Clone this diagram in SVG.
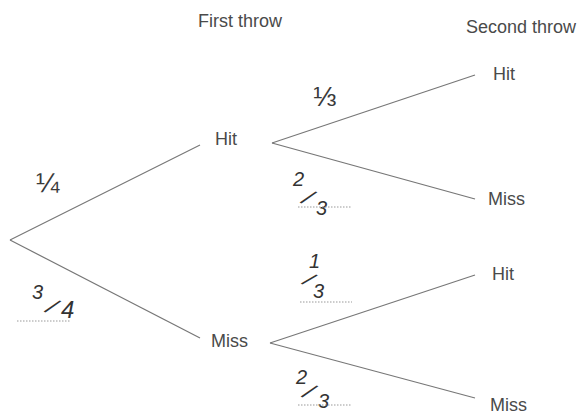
<svg xmlns="http://www.w3.org/2000/svg" width="585" height="414" viewBox="0 0 585 414">
<style>
.lbl{font-family:"Liberation Sans",Arial,sans-serif;font-size:18px;fill:#4a4a4a}
.hdr{font-family:"Liberation Sans",Arial,sans-serif;font-size:18px;fill:#4a4a4a}
.frac{font-family:"Liberation Sans",Arial,sans-serif;font-size:28px;fill:#3a3a3a}
.hw{font-family:"Liberation Sans",Arial,sans-serif;font-size:20px;fill:#333;font-style:italic}
.br{stroke:#777;stroke-width:1.2;fill:none}
.dot{stroke:#999;stroke-width:1;stroke-dasharray:1.5 1.5;fill:none}
</style>
<rect width="585" height="414" fill="#fff"/>
<g id="headers">
<text class="hdr" x="240" y="27" text-anchor="middle">First throw</text>
<text class="hdr" x="466" y="33">Second throw</text>
</g>
<g id="connectors">
<line class="br" x1="10" y1="240" x2="200" y2="145"/>
<line class="br" x1="10" y1="240" x2="200" y2="338"/>
<line class="br" x1="272" y1="143" x2="475" y2="75"/>
<line class="br" x1="272" y1="143" x2="475" y2="199"/>
<line class="br" x1="270" y1="343" x2="475" y2="275"/>
<line class="br" x1="270" y1="343" x2="475" y2="398"/>
</g>
<g id="hit1"><text class="lbl" x="215" y="145">Hit</text></g>
<g id="miss1"><text class="lbl" x="211" y="347">Miss</text></g>
<g id="hit-hit"><text class="lbl" x="493" y="80">Hit</text></g>
<g id="hit-miss"><text class="lbl" x="488" y="205">Miss</text></g>
<g id="miss-hit"><text class="lbl" x="492" y="280">Hit</text></g>
<g id="miss-miss"><text class="lbl" x="490" y="411">Miss</text></g>
<g id="probabilities">
<text class="frac" x="36" y="192">¼</text>
<text class="frac" x="313" y="106">⅓</text>
<text class="hw"><tspan x="32" y="299">3</tspan><tspan x="45" y="312" rotate="30" font-size="24">/</tspan><tspan x="61" y="318" font-size="24">4</tspan></text>
<line class="dot" x1="17" y1="321" x2="70" y2="321"/>
<text class="hw"><tspan x="293" y="186">2</tspan><tspan x="301" y="203" rotate="30" font-size="24">/</tspan><tspan x="316" y="215">3</tspan></text>
<line class="dot" x1="298" y1="207" x2="352" y2="207"/>
<text class="hw"><tspan x="309" y="268">1</tspan><tspan x="302" y="284" rotate="35" font-size="22">/</tspan><tspan x="313" y="298">3</tspan></text>
<line class="dot" x1="300" y1="302" x2="352" y2="302"/>
<text class="hw"><tspan x="296" y="384">2</tspan><tspan x="302" y="397" rotate="30" font-size="24">/</tspan><tspan x="318" y="408">3</tspan></text>
<line class="dot" x1="298" y1="405" x2="352" y2="405"/>
</g>
</svg>
